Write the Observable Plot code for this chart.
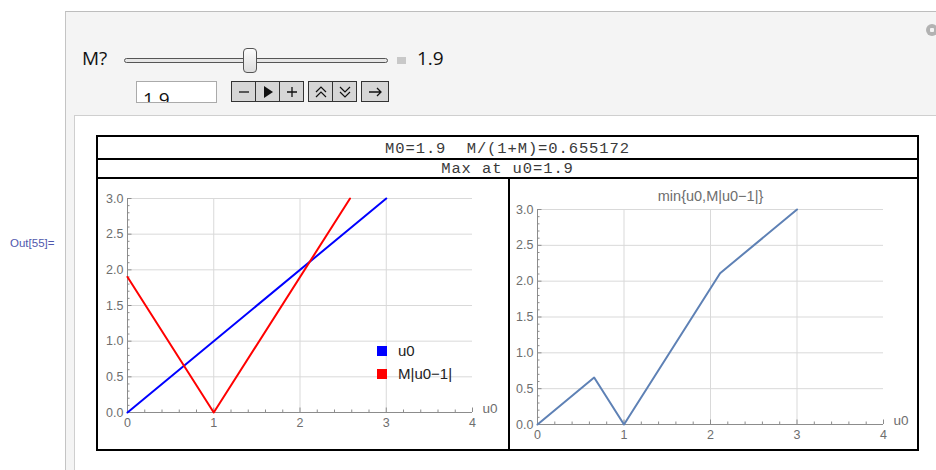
<!DOCTYPE html>
<html><head><meta charset="utf-8">
<script src="https://cdn.jsdelivr.net/npm/d3@7"></script>
<script src="https://cdn.jsdelivr.net/npm/@observablehq/plot@0.6"></script>
<style>
html,body{margin:0;padding:0;background:#fff;width:936px;height:470px;overflow:hidden;font-family:"Liberation Sans",Arial,sans-serif;}
.abs{position:absolute;}
#out{left:10px;top:237px;font-size:11.5px;color:#5058ad;}
#panel{left:65px;top:11px;width:900px;height:500px;background:#f4f4f4;border-top:1px solid #bdbdbd;border-left:1px solid #c4c4c4;}
#inner{left:74px;top:115px;width:900px;height:400px;background:#fff;border-top:1px solid #cfcfcf;border-left:1px solid #cfcfcf;}
.lbl{font-family:"Open Sans","Liberation Sans",sans-serif;font-size:19px;color:#111;}
#track{left:124px;top:58px;width:262px;height:3px;background:#e6e6e6;border:1px solid #555;border-radius:3px;}
#thumb{left:243px;top:48px;width:12px;height:23px;background:linear-gradient(#fdfdfd,#dcdcdc);border:1px solid #555;border-radius:4px;}
#tog{left:397px;top:57px;width:9px;height:7px;background:#c8c8c8;}
#input{left:136px;top:81px;width:79px;height:20px;background:#fff;border:1px solid #aaa;overflow:hidden;}
.btn{top:81px;height:19px;background:#d6d6d6;border:1px solid #333;box-sizing:content-box;display:flex;align-items:center;justify-content:center;}
.btn svg{display:block}
#gear{left:926px;top:24px;width:12px;height:12px;border-radius:50%;background:radial-gradient(circle,#f4f4f4 0 2px,#b2b2b2 2.5px);}
#table{left:96px;top:135px;width:819px;height:312px;border:2px solid #000;}
.row{position:absolute;left:0;width:819px;text-align:center;font-family:"Liberation Mono","Courier New",monospace;font-size:15.5px;letter-spacing:0.9px;color:#3a3a3a;}
.hline{position:absolute;left:0;width:819px;height:2px;background:#000;}
#vline{left:508px;top:177px;width:2px;height:274px;background:#000;}
.leg{font-size:15px;color:#222;}
.sw{width:10px;height:10px;}
</style></head>
<body>
<div id="out" class="abs">Out[55]=</div>
<div id="panel" class="abs"></div>
<div id="gear" class="abs"></div>
<div class="abs lbl" style="left:82px;top:45px;">M?</div>
<div id="track" class="abs"></div>
<div id="thumb" class="abs"></div>
<div id="tog" class="abs"></div>
<div class="abs lbl" style="left:417px;top:45px;">1.9</div>
<div id="input" class="abs"><div class="lbl" style="position:absolute;left:6px;top:7px;line-height:20px;">1.9</div></div>
<div id="buttons"></div>
<div id="inner" class="abs"></div>
<div id="table" class="abs">
  <div class="row" style="top:3px;">M0=1.9&nbsp;&nbsp;M/(1+M)=0.655172</div>
  <div class="hline" style="top:21px;"></div>
  <div class="row" style="top:23px;">Max at u0=1.9</div>
  <div class="hline" style="top:40px;"></div>
</div>
<div id="vline" class="abs"></div>
<div id="left" class="abs" style="left:98px;top:179px;"></div>
<div id="right" class="abs" style="left:511px;top:179px;"></div>
<div class="abs sw" style="left:377px;top:346px;background:#0000ff;"></div>
<div class="abs leg" style="left:398px;top:342px;">u0</div>
<div class="abs sw" style="left:377px;top:369px;background:#ff0000;"></div>
<div class="abs leg" style="left:398px;top:365px;">M|u0−1|</div>
<script>
// ---- data ----
const xTicks = [0, 1, 2, 3, 4];
const yTicks = [0, 0.5, 1, 1.5, 2, 2.5, 3];
const xGrid = [1, 2, 3];
const yGrid = [0.5, 1, 1.5, 2, 2.5, 3];
const xMinor = d3.range(0, 4.001, 0.2).filter(v => Math.abs(v - Math.round(v)) > 1e-6);
const yMinor = d3.range(0, 3.001, 0.1).filter(v => Math.abs(v * 2 - Math.round(v * 2)) > 1e-6);

const blueU0 = [0, 3];
const blueVal = [0, 3];
const redU0 = [0, 1, 2.58];
const redVal = [1.9, 0, 3.0];
const minU0 = [0, 0.655, 1, 2.111, 3];
const minVal = [0, 0.655, 0, 2.111, 3];

const toRows = (xs, ys) => xs.map((x, i) => ({x, y: ys[i]}));

// ---- buttons (UI chrome) ----
const btnDefs = [
  {l:231,w:23,g:'<path d="M4 8h10" stroke="#111" stroke-width="1.3"/>'},
  {l:255,w:23,g:'<path d="M5 2l9 6-9 6z" fill="#111"/>'},
  {l:279,w:23,g:'<path d="M4 8h10M9 3v10" stroke="#111" stroke-width="1.3"/>'},
  {l:308,w:23,g:'<path d="M4 8l5-5 5 5M4 13l5-5 5 5" stroke="#111" stroke-width="1.2" fill="none"/>'},
  {l:332,w:23,g:'<path d="M4 3l5 5 5-5M4 8l5 5 5-5" stroke="#111" stroke-width="1.2" fill="none"/>'},
  {l:361,w:26,g:'<path d="M3 8h12M11 4l4 4-4 4" stroke="#111" stroke-width="1.3" fill="none"/>'}
];
const bc = document.getElementById("buttons");
for (const b of btnDefs) {
  const d = document.createElement("div");
  d.className = "abs btn";
  d.style.left = b.l + "px"; d.style.width = b.w + "px";
  d.innerHTML = `<svg width="18" height="16" viewBox="0 0 18 16">${b.g}</svg>`;
  bc.appendChild(d);
}

// ---- chart ----
const axisColor = "#8c8c8c";
const gridColor = "#d9d9d9";
const labColor = "#6e6e6e";
const fmtY = d3.format(".1f");

function frame() {
  return [
    Plot.gridX(xGrid, {stroke: gridColor, strokeOpacity: 1, y1: 0, y2: 3}),
    Plot.gridY(yGrid, {stroke: gridColor, strokeOpacity: 1, x1: 0, x2: 4}),
    Plot.ruleY([0], {x1: 0, x2: 4, stroke: axisColor}),
    Plot.ruleX([0], {y1: 0, y2: 3, stroke: axisColor}),
    Plot.axisX(xMinor, {tickSize: 2.5, dy: -2.5, fill: "none", stroke: axisColor, label: null}),
    Plot.axisX(xTicks, {tickSize: 4.5, dy: -4.5, fill: "none", stroke: axisColor, label: null}),
    Plot.axisX(xTicks, {tickSize: 0, tickPadding: 6, fill: labColor, fontSize: 12.5, label: null, tickFormat: d => d}),
    Plot.axisY(yMinor, {tickSize: 2.5, dx: 2.5, fill: "none", stroke: axisColor, label: null}),
    Plot.axisY(yTicks, {tickSize: 4.5, dx: 4.5, fill: "none", stroke: axisColor, label: null}),
    Plot.axisY(yTicks, {tickSize: 0, tickPadding: 4, fill: labColor, fontSize: 12.5, label: null, tickFormat: fmtY}),
    Plot.text(["u0"], {frameAnchor: "bottom-right", dx: 10, textAnchor: "start", fill: labColor, fontSize: 13.5})
  ];
}

const common = {
  height: 270,
  x: {domain: [0, 4], axis: null},
  y: {domain: [0, 3], axis: null},
  style: {background: "transparent", fontFamily: "'Liberation Sans', Arial, sans-serif", overflow: "visible"}
};

const left = Plot.plot({
  ...common,
  width: 410,
  marginLeft: 29, marginRight: 36, marginTop: 19, marginBottom: 37,
  marks: [
    ...frame(),
    Plot.line(toRows(blueU0, blueVal), {x: "x", y: "y", stroke: "#0000ff", strokeWidth: 2}),
    Plot.line(toRows(redU0, redVal), {x: "x", y: "y", stroke: "#ff0000", strokeWidth: 2})
  ]
});
document.getElementById("left").appendChild(left);

const right = Plot.plot({
  ...common,
  width: 407,
  marginLeft: 26, marginRight: 35, marginTop: 30, marginBottom: 25,
  marks: [
    ...frame(),
    Plot.line(toRows(minU0, minVal), {x: "x", y: "y", stroke: "#5e81b5", strokeWidth: 2}),
    Plot.text(["min{u0,M|u0−1|}"], {frameAnchor: "top", dy: -19, fill: labColor, fontSize: 14.5})
  ]
});
document.getElementById("right").appendChild(right);
</script>
</body></html>
